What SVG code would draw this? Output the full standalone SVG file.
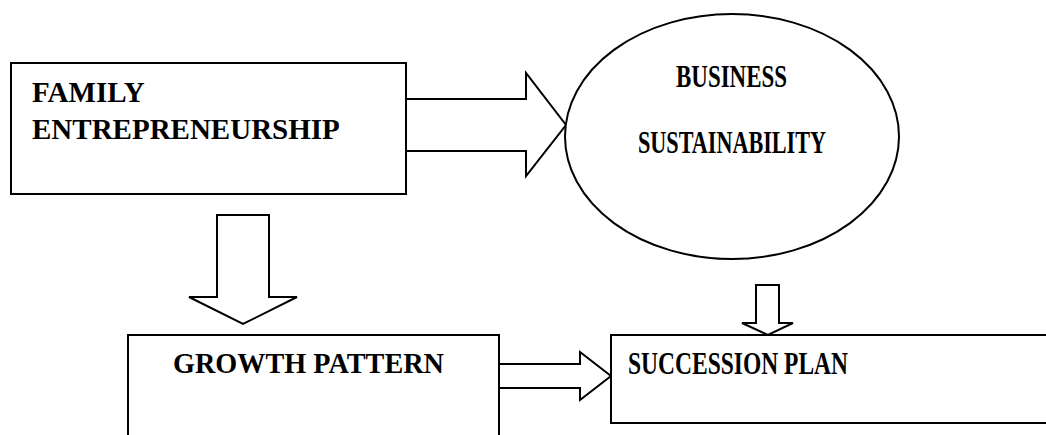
<svg xmlns="http://www.w3.org/2000/svg" width="1046" height="435" viewBox="0 0 1046 435">
<style>
.shape{fill:#fff;stroke:#000;stroke-width:2}
.arrow{fill:#fff;stroke:#000;stroke-width:2;stroke-linejoin:miter}
.lbl{font-family:"Liberation Serif","Times New Roman",serif;font-weight:bold;font-size:29px;fill:#000}
.tall{font-size:31px}
</style>
<rect width="1046" height="435" fill="#fff"/>
<g id="connectors">
<polygon class="arrow" points="406,99 526,99 526,73 566,125 526,176 526,151 406,151"/>
<polygon class="arrow" points="217,215 269,215 269,297 297,297 243,324 189,297 217,297"/>
<polygon class="arrow" points="499,364 580,364 580,352 611,376 580,400 580,388 499,388"/>
<polygon class="arrow" points="756,285 779,285 779,323 793,323 768,335 742,323 756,323"/>
</g>
<g id="family">
<rect class="shape" x="11" y="63" width="395" height="131"/>
<text class="lbl" x="32" y="102">FAMILY</text>
<text class="lbl" x="32" y="139">ENTREPRENEURSHIP</text>
</g>
<g id="business">
<ellipse class="shape" cx="732" cy="136.5" rx="167" ry="122.5"/>
<text class="lbl tall" x="676" y="87" textLength="111" lengthAdjust="spacingAndGlyphs">BUSINESS</text>
<text class="lbl tall" x="638" y="153" textLength="188" lengthAdjust="spacingAndGlyphs">SUSTAINABILITY</text>
</g>
<g id="growth">
<rect class="shape" x="128" y="335" width="371" height="130"/>
<text class="lbl" x="173" y="373" textLength="271" lengthAdjust="spacingAndGlyphs">GROWTH PATTERN</text>
</g>
<g id="succession">
<rect class="shape" x="611" y="335" width="460" height="88"/>
<text class="lbl tall" x="628" y="374" textLength="220" lengthAdjust="spacingAndGlyphs">SUCCESSION PLAN</text>
</g>
</svg>
